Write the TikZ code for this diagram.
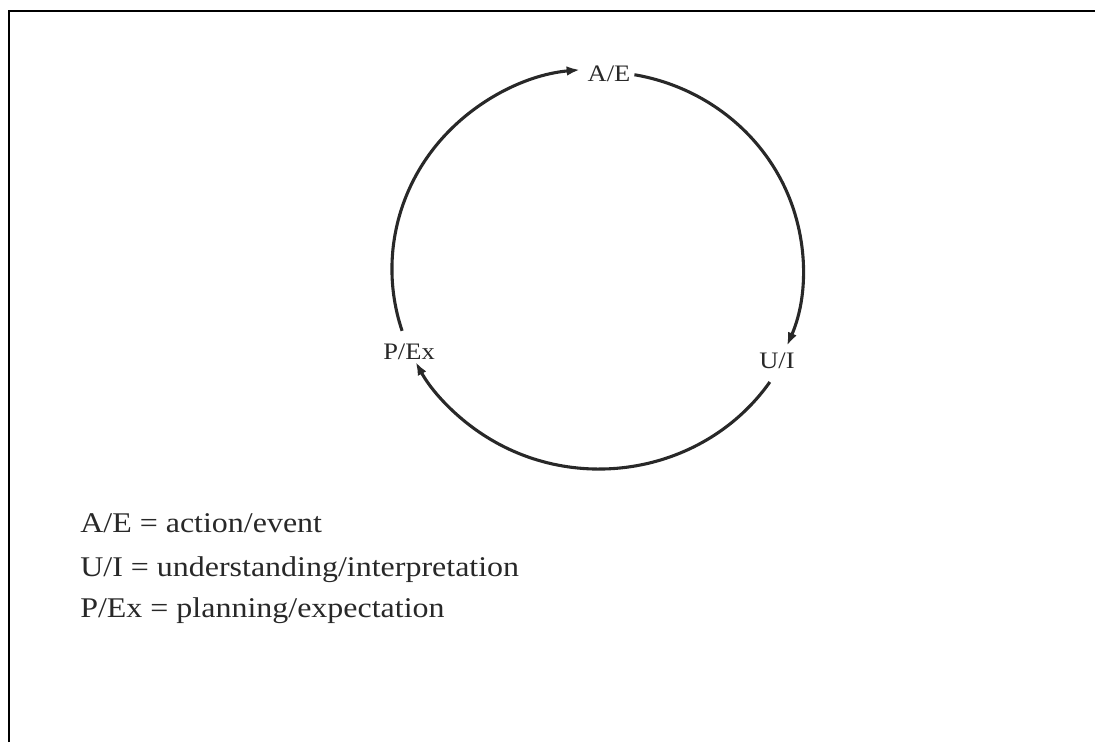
\documentclass[tikz,border=0pt]{standalone}
\usepackage{fontspec}
\setmainfont{Liberation Serif}[FakeStretch=1.12]
\usepackage{tikz}
\usetikzlibrary{calc,arrows.meta,positioning}
\definecolor{CycleInk}{RGB}{40, 40, 40}

\begin{document}
\begin{tikzpicture}[x=0.025cm, y=0.025cm,
  lbl/.style={inner sep=0pt, text=CycleInk, font=\fontsize{16.8}{20}\selectfont},
  key/.style={anchor=base west, inner sep=0pt, text=CycleInk, font=\fontsize{20.3}{24}\selectfont},
  sig/.style={-{Latex[length=0.33cm, width=0.24cm]}, draw=CycleInk, line width=2.2pt},
  frm/.style={draw=black, line width=1.4pt}]

  \useasboundingbox (0,0) rectangle (1095,742);
  \draw[frm] (9,0) -- (9,731) -- (1095,731);

  % --- the cycle ---
  \coordinate (c) at (599,473);
  \node[lbl] (ae) at (609,668) {A/E};
  \node[lbl] (ui) at (777,381) {U/I};
  \node[lbl] (pe) at (409,390) {P/Ex};

  \coordinate (pe-out) at ($(c)+(198:5.175cm and 5cm)$);
  \coordinate (ae-out) at ($(c)+(80:5.10cm and 4.93cm)$);
  \coordinate (ui-out) at ($(c)+(-34.4:5.175cm and 5cm)$);

  \draw[sig] (pe-out) arc[start angle=198, end angle=95.3, x radius=5.175cm, y radius=5cm];
  \draw[sig] (ae-out) arc[start angle=80, end angle=-22.9, x radius=5.10cm, y radius=4.93cm];
  \draw[sig] (ui-out) arc[start angle=-34.4, end angle=-152.3, x radius=5.175cm, y radius=5cm];

  % --- key ---
  \node[key] (k1) at (80,209) {A/E = action/event};
  \node[key] (k2) at (80,165) {U/I = understanding/interpretation};
  \node[key] (k3) at (80,124) {P/Ex = planning/expectation};
\end{tikzpicture}
\end{document}
